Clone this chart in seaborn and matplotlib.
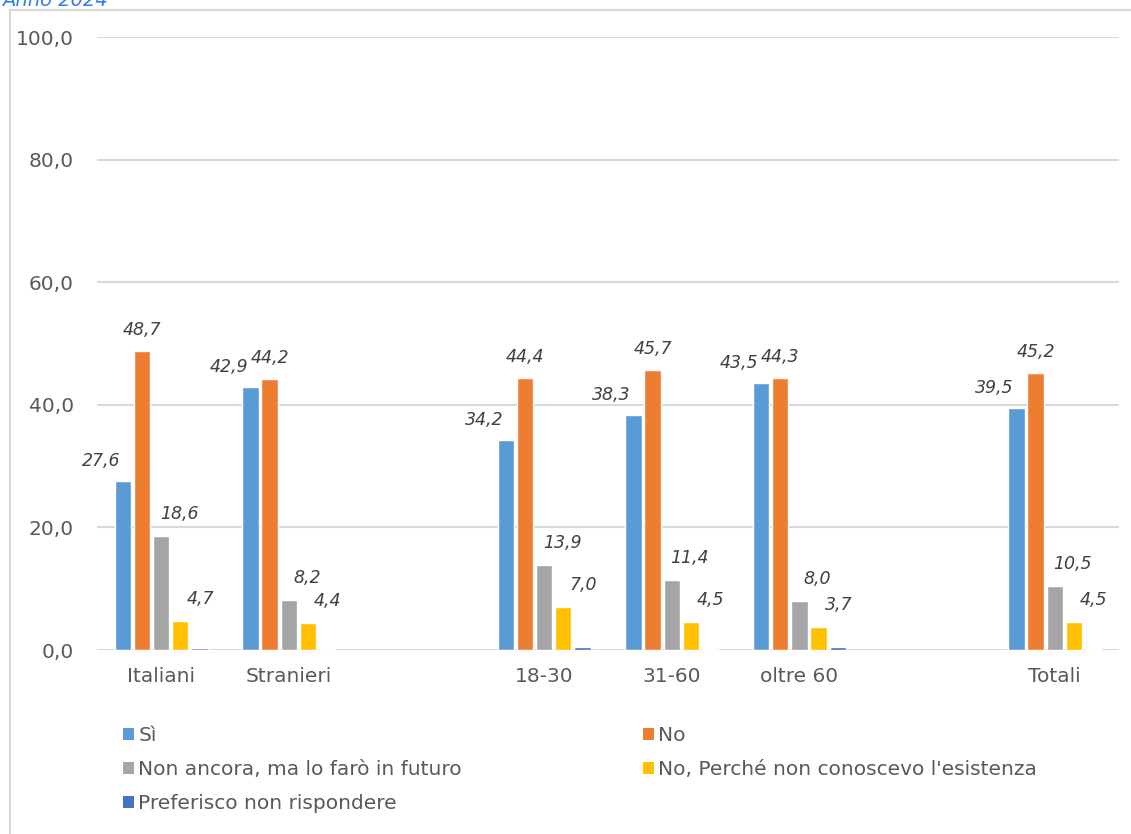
import pandas as pd
import seaborn as sns
import matplotlib.pyplot as plt
from matplotlib.patches import Patch, Rectangle
from matplotlib.ticker import FuncFormatter

# Values (percentages)
gruppi = ['Italiani', 'Stranieri', '18-30', '31-60', 'oltre 60', 'Totali']
si = [27.6, 42.9, 34.2, 38.3, 43.5, 39.5]
no = [48.7, 44.2, 44.4, 45.7, 44.3, 45.2]
non_ancora = [18.6, 8.2, 13.9, 11.4, 8.0, 10.5]
no_perche = [4.7, 4.4, 7.0, 4.5, 3.7, 4.5]
preferisco = [0.4, 0.2, 0.5, 0.1, 0.5, 0.2]

risposte = ['Sì', 'No', 'Non ancora, ma lo farò in futuro',
            "No, Perché non conoscevo l'esistenza", 'Preferisco non rispondere']
colori = ['#5B9BD5', '#ED7D31', '#A5A5A5', '#FFC000', '#4472C4']

# empty slots separate the groups on the x axis
ordine_x = ['Italiani', 'Stranieri', ' ', '18-30', '31-60', 'oltre 60', '  ', 'Totali']

serie = [si, no, non_ancora, no_perche, preferisco]
righe = []
for nome, valori in zip(risposte, serie):
    for g, v in zip(gruppi, valori):
        righe.append({'gruppo': g, 'risposta': nome, 'valore': v})
df = pd.DataFrame(righe)

sns.set_style('white')
plt.rcParams['font.family'] = ['DejaVu Sans']

fig = plt.figure(figsize=(11.31, 8.34), dpi=100)
ax = fig.add_axes([0.086, 0.2206, 0.903, 0.735])

sns.barplot(data=df, x='gruppo', y='valore', hue='risposta', order=ordine_x,
            hue_order=risposte, palette=colori, width=0.75, gap=0.15,
            saturation=1, legend=False, ax=ax)

ax.set_ylim(0, 100)
ax.set_yticks([0, 20, 40, 60, 80, 100])
ax.yaxis.set_major_formatter(FuncFormatter(lambda v, p: f'{v:.1f}'.replace('.', ',')))
ax.grid(axis='y', color='#D9D9D9', linewidth=1.5)
ax.set_axisbelow(True)
for s in ax.spines.values():
    s.set_visible(False)
ax.set_xlabel('')
ax.set_ylabel('')
ax.tick_params(axis='both', length=0, labelsize=14.5, colors='#595959')
ax.tick_params(axis='x', pad=12)
ax.tick_params(axis='y', pad=17)

# data labels (offsets in pixels, per series)
offsets = [(-22, 20), (0, 21), (18, 22), (20, 22)]
for cont, (dx, dy) in zip(ax.containers[:4], offsets):
    for bar in cont:
        h = bar.get_height()
        if pd.isna(h):
            continue
        ax.annotate(f'{h:.1f}'.replace('.', ','),
                    xy=(bar.get_x() + bar.get_width() / 2, h),
                    xytext=(dx, dy), textcoords='offset pixels',
                    ha='center', va='center', fontsize=12.5, style='italic',
                    color='#404040')

# legend laid out row by row like the original
handles = [Patch(facecolor=c, edgecolor='none', label=r) for r, c in zip(risposte, colori)]
ordine_leg = [0, 2, 4, 1, 3]
fig.legend([handles[i] for i in ordine_leg], [risposte[i] for i in ordine_leg],
           ncol=2, loc='upper left', bbox_to_anchor=(115 / 1131, 1 - 718 / 834),
           frameon=False, fontsize=14.5, handlelength=0.55, handleheight=0.55,
           handletextpad=0.2, columnspacing=9.0, labelspacing=0.75,
           labelcolor='#595959', borderaxespad=0)

# chart border and cut-off subtitle
fig.patches.append(Rectangle((10 / 1131, -0.1), 2, 1.1 - 10 / 834,
                             transform=fig.transFigure, fill=False,
                             edgecolor='#D9D9D9', linewidth=1.5))
fig.text(2 / 1131, 1 - 6 / 834, 'Anno 2024', fontsize=14, style='italic',
         color='#2F80ED', va='baseline', ha='left')

fig.savefig('out.png', dpi=100)
